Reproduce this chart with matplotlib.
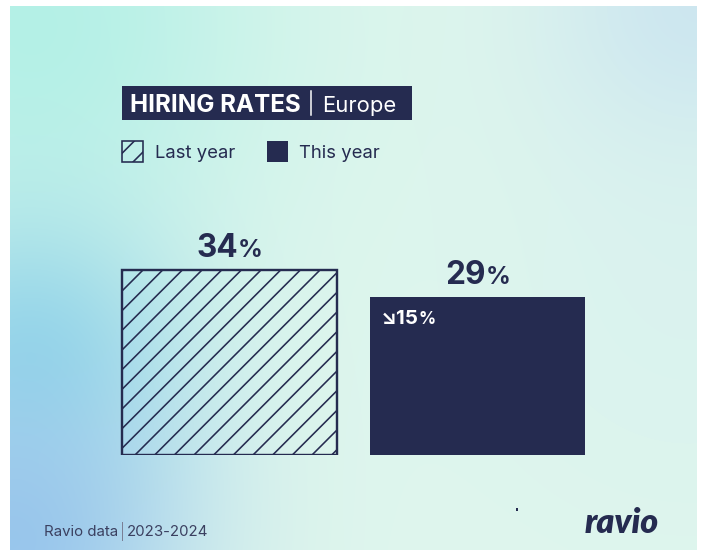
import numpy as np
import matplotlib
matplotlib.use("Agg")
import matplotlib.pyplot as plt
from matplotlib.patches import Rectangle
from matplotlib.transforms import Affine2D
from matplotlib.offsetbox import TextArea, HPacker, AnnotationBbox

# Hiring rates, Europe
categories = ["Last year", "This year"]
rates = [34, 29]
change_label = "\u219815%"
title_main = "HIRING RATES"
title_region = "Europe"
source_text = "Ravio data"
period_text = "2023-2024"

NAVY = "#252b50"
TEXT = "#3b4060"
W, H, DPI = 702, 554, 118


def pt(p):
    # pixel size -> points at the figure dpi
    return p * 72 / DPI


plt.rcParams["font.family"] = ["Inter", "DejaVu Sans"]
plt.rcParams["hatch.linewidth"] = pt(1.6)
plt.rcParams["hatch.color"] = NAVY

fig = plt.figure(figsize=(W / DPI, H / DPI), dpi=DPI, facecolor="white")
# pixel coordinates, origin top-left
px = Affine2D().scale(1 / W, -1 / H).translate(0, 1) + fig.transFigure


def frac_rect(x0, y0, x1, y1):
    return [x0 / W, 1 - y1 / H, (x1 - x0) / W, (y1 - y0) / H]


# soft gradient backdrop
bg = fig.add_axes(frac_rect(10, 6, 697, 550))
bg.set_axis_off()
gx, gy = np.meshgrid(np.linspace(10, 697, 240), np.linspace(6, 550, 190))
img = np.ones(gx.shape + (3,)) * np.array([223, 246, 237]) / 255
blobs = [
    ((30, 20), 170, (176, 240, 230), 0.9),
    ((30, 360), 105, (138, 212, 232), 0.85),
    ((10, 545), 125, (150, 196, 236), 0.95),
    ((700, 10), 110, (202, 228, 240), 0.9),
    ((690, 300), 160, (214, 240, 240), 0.5),
]
for (cx, cy), sig, col, k in blobs:
    w = k * np.exp(-((gx - cx) ** 2 + (gy - cy) ** 2) / (2 * sig ** 2))
    img = img * (1 - w[..., None]) + np.array(col)[None, None, :] / 255 * w[..., None]
bg.imshow(img, aspect="auto", interpolation="bilinear", extent=(0, 1, 0, 1))
bg.set_xlim(0, 1)
bg.set_ylim(0, 1)

# bar axes: baseline at 455px, 34 -> 185px
baseline = 455
k = 185 / 34
ppu = 248
xl, xr = -0.6, 1.6
ymax = 40
ax = fig.add_axes(frac_rect(229.5 + xl * ppu, baseline - ymax * k,
                            229.5 + xr * ppu, baseline))
ax.set_xlim(xl, xr)
ax.set_ylim(0, ymax)
ax.set_axis_off()
ax.patch.set_alpha(0)

xs = np.arange(len(categories))
bars = ax.bar(xs, rates, width=0.87)
bars[0].set_facecolor("none")
bars[0].set_edgecolor(NAVY)
bars[0].set_hatch("//")
bars[0].set_linewidth(pt(2.4))
bars[1].set_facecolor(NAVY)
bars[1].set_edgecolor(NAVY)
bars[1].set_linewidth(0)


def value_label(xy, num, big, small, color, offset, align=(0.5, 0.0)):
    parts = [
        TextArea(num, textprops=dict(size=pt(big), weight="bold", color=color)),
        TextArea("%", textprops=dict(size=pt(small), weight="bold", color=color)),
    ]
    box = HPacker(children=parts, align="baseline", pad=0, sep=0)
    ab = AnnotationBbox(box, xy, xycoords="data",
                        xybox=(pt(offset[0]), pt(offset[1])),
                        boxcoords="offset points", frameon=False,
                        box_alignment=align)
    ax.add_artist(ab)


for x, v in zip(xs, rates):
    value_label((x, v), str(v), 31.5, 24.5, NAVY, (0, 6))

# change inside the "this year" bar
value_label((xs[1] - 0.87 / 2, rates[1]), change_label[:-1], 20.5, 17, "white",
            (11, -13), align=(0.0, 1.0))

# title block
fig.patches.append(Rectangle((122, 86), 290, 34, transform=px, facecolor=NAVY,
                             edgecolor="none"))
fig.text(130, 112, title_main, transform=px, color="white", size=pt(24.2),
         weight="bold", va="baseline")
fig.lines.append(plt.Line2D([311, 311], [91, 115], transform=px, color="white",
                            lw=pt(1.5)))
fig.text(322, 112, title_region, transform=px, color="white", size=pt(22),
         va="baseline")

# legend
fig.patches.append(Rectangle((122, 141), 21, 21, transform=px, facecolor="none",
                             edgecolor=NAVY, hatch="//", lw=pt(1.6)))
fig.text(155, 158, categories[0], transform=px, color=NAVY, size=pt(18.5),
         va="baseline")
fig.patches.append(Rectangle((267, 141), 21, 21, transform=px, facecolor=NAVY,
                             edgecolor="none"))
fig.text(299, 158, categories[1], transform=px, color=NAVY, size=pt(18.5),
         va="baseline")

# footer
fig.text(44, 536, source_text, transform=px, color=TEXT, size=pt(15),
         va="baseline")
fig.lines.append(plt.Line2D([122, 122], [522, 540], transform=px, color="#7a7f95",
                            lw=pt(1)))
fig.text(127, 536, period_text, transform=px, color=TEXT, size=pt(15),
         va="baseline")
fig.text(585, 533, "ravio", transform=px, color=NAVY, size=pt(34),
         family=["Lato", "DejaVu Sans"], weight="heavy", style="italic",
         va="baseline")
fig.patches.append(Rectangle((516, 508), 2, 3, transform=px, facecolor=NAVY,
                             edgecolor="none"))

fig.savefig("out.png", dpi=DPI, facecolor="white")
